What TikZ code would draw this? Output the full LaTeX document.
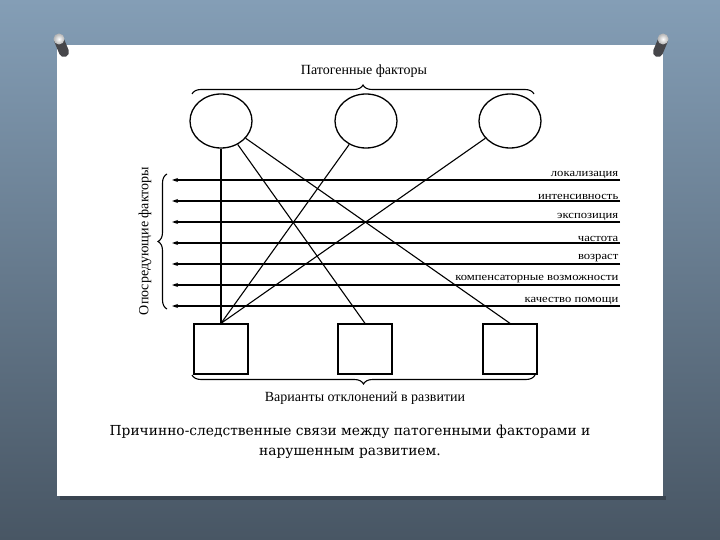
\documentclass[tikz,border=0pt]{standalone}
\usepackage{fontspec}
\setmainfont{Liberation Serif}
\newfontfamily\capfont{DejaVu Serif}
\usetikzlibrary{shapes.geometric,arrows.meta,positioning,decorations.pathreplacing}
\definecolor{bgtop}{RGB}{132,158,182}
\definecolor{bgbottom}{RGB}{72,86,100}
\definecolor{pinbody}{RGB}{70,70,74}
\newcommand{\widetext}[1]{\scalebox{1.15}[1]{#1}}

\begin{document}
\begin{tikzpicture}[x=1pt,y=-1pt]
	\tikzstyle{factor}=[ellipse,draw,line width=1.3pt,minimum width=62pt,minimum height=54pt,inner sep=0pt]
	\tikzstyle{variant}=[rectangle,draw,line width=1.3pt,minimum width=54pt,minimum height=50pt,inner sep=0pt]
	\tikzstyle{link}=[line width=1.1pt]
	\tikzstyle{mediator}=[line width=1.2pt,-{Stealth[length=6pt,width=4pt]}]
	\tikzstyle{medlabel}=[font=\fontsize{11}{12}\selectfont,anchor=south east,inner sep=1.5pt]
	\tikzstyle{grouplabel}=[font=\fontsize{14}{16}\selectfont]
	\tikzstyle{brace}=[decorate,decoration={brace,amplitude=9pt},line width=1.1pt]
	\useasboundingbox (0,0) rectangle (720,540);
	% slide and paper
	\shade[top color=bgtop,bottom color=bgbottom] (0,0) rectangle (720,540);
	\fill[black,opacity=0.25] (60,496) rectangle (666,500);
	\fill[white] (57,45) rectangle (663,496);
	% pins
	\draw[pinbody,line width=10pt,line cap=round] (59,40) -- (64,52);
	\shade[inner color=white,outer color=gray!60] (59,39) circle (5.5);
	\draw[pinbody,line width=10pt,line cap=round] (663,40) -- (658,52);
	\shade[inner color=white,outer color=gray!60] (663,39) circle (5.5);
	% pathogenic factors
	\node[grouplabel] (pathlabel) at (364,71) {Патогенные факторы};
	\draw[brace] (192,94) -- (534,94);
	\node[factor] (f1) at (221,121) {};
	\node[factor] (f2) at (366,121) {};
	\node[factor] (f3) at (510,121) {};
	% variants of deviation
	\node[variant] (v1) at (221,349) {};
	\node[variant] (v2) at (365,349) {};
	\node[variant] (v3) at (510,349) {};
	\draw[brace] (535,375) -- (192,375);
	\node[grouplabel] (varlabel) at (365,398) {Варианты отклонений в развитии};
	% mediating factors
	\foreach \lab [count=\i] in {локализация,интенсивность,экспозиция,частота,возраст,компенсаторные возможности,качество помощи}{
		\coordinate (mr\i) at (620,{159+21*\i});
		\coordinate (ml\i) at (172,{159+21*\i});
		\draw[mediator] (mr\i) -- (ml\i);
		\node[medlabel] (mlab\i) at (mr\i) {\widetext{\lab}};
	}
	\draw[brace] (167,309) -- (167,174);
	\node[grouplabel,rotate=90] (medlabel) at (145,241) {Опосредующие факторы};
	% links
	\draw[link] (f1) -- (v1);
	\draw[link] (f1) -- (v2.north);
	\draw[link] (f1) -- (v3.north);
	\draw[link] (f2) -- (v1.north);
	\draw[link] (f3) -- (v1.north);
	% caption
	\node[font=\capfont\fontsize{13.8}{20}\selectfont,align=center] (caption) at (350,442)
		{Причинно-следственные связи между патогенными факторами и\\нарушенным развитием.};
\end{tikzpicture}
\end{document}
